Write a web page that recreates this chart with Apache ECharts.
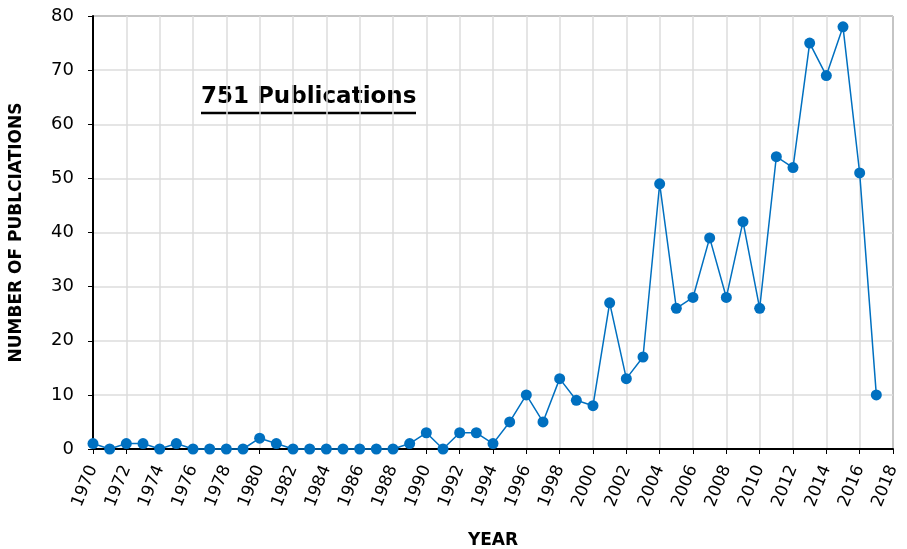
<!DOCTYPE html>
<html>
<head>
<meta charset="utf-8">
<script src="https://cdn.jsdelivr.net/npm/echarts@6/dist/echarts.min.js"></script>
<style>
  html, body { margin: 0; padding: 0; background: #fff; }
  #chart { width: 907px; height: 549px; }
</style>
</head>
<body>
<div id="chart"></div>
<script>
// publications per year
const years = [1970, 1971, 1972, 1973, 1974, 1975, 1976, 1977, 1978, 1979,
  1980, 1981, 1982, 1983, 1984, 1985, 1986, 1987, 1988, 1989,
  1990, 1991, 1992, 1993, 1994, 1995, 1996, 1997, 1998, 1999,
  2000, 2001, 2002, 2003, 2004, 2005, 2006, 2007, 2008, 2009,
  2010, 2011, 2012, 2013, 2014, 2015, 2016, 2017];
const counts = [1, 0, 1, 1, 0, 1, 0, 0, 0, 0,
  2, 1, 0, 0, 0, 0, 0, 0, 0, 1,
  3, 0, 3, 3, 1, 5, 10, 5, 13, 9,
  8, 27, 13, 17, 49, 26, 28, 39, 28, 42,
  26, 54, 52, 75, 69, 78, 51, 10];
const totalLabel = '751 Publications';

const FONT = 'DejaVu Sans';
const chart = echarts.init(document.getElementById('chart'));

chart.setOption({
  animation: false,
  grid: {
    left: 93, right: 14, top: 16, bottom: 100,
    outerBoundsMode: 'none',
    show: true, borderColor: '#000', borderWidth: 1
  },
  xAxis: {
    type: 'value',
    min: 1970, max: 2018, interval: 2,
    name: 'YEAR', nameLocation: 'middle', nameGap: 83,
    nameTextStyle: { fontFamily: FONT, fontWeight: 'bold', fontSize: 17, color: '#000' },
    axisLine: { lineStyle: { color: '#000', width: 2 } },
    axisTick: { show: true, length: 5, lineStyle: { color: '#000', width: 1 } },
    axisLabel: {
      rotate: 68, fontFamily: FONT, fontSize: 17, color: '#000', margin: 17,
      formatter: v => String(v)
    },
    splitLine: { show: true, lineStyle: { color: '#dcdcdc', width: 1.5 } }
  },
  yAxis: {
    type: 'value',
    min: 0, max: 80, interval: 10,
    name: 'NUMBER OF PUBLCIATIONS', nameLocation: 'middle', nameGap: 68,
    nameTextStyle: { fontFamily: FONT, fontWeight: 'bold', fontSize: 17, color: '#000' },
    axisLine: { show: true, lineStyle: { color: '#000', width: 2 } },
    axisTick: { show: true, length: 5, lineStyle: { color: '#000', width: 1 } },
    axisLabel: { fontFamily: FONT, fontSize: 18, color: '#000', margin: 19 },
    splitLine: { show: true, lineStyle: { color: '#dcdcdc', width: 1.5 } }
  },
  graphic: [
    {
      type: 'text', left: 201, top: 86,
      style: { text: totalLabel, font: 'bold 23px "DejaVu Sans"', fill: '#000' }
    },
    {
      type: 'line',
      shape: { x1: 201, y1: 113, x2: 416, y2: 113 },
      style: { stroke: '#000', lineWidth: 2.5 }
    }
  ],
  series: [{
    type: 'line',
    data: years.map((y, i) => [y, counts[i]]),
    symbol: 'circle', symbolSize: 11,
    lineStyle: { color: '#0070C0', width: 1.5 },
    itemStyle: { color: '#0070C0' },
    clip: false
  }]
});
</script>
</body>
</html>
